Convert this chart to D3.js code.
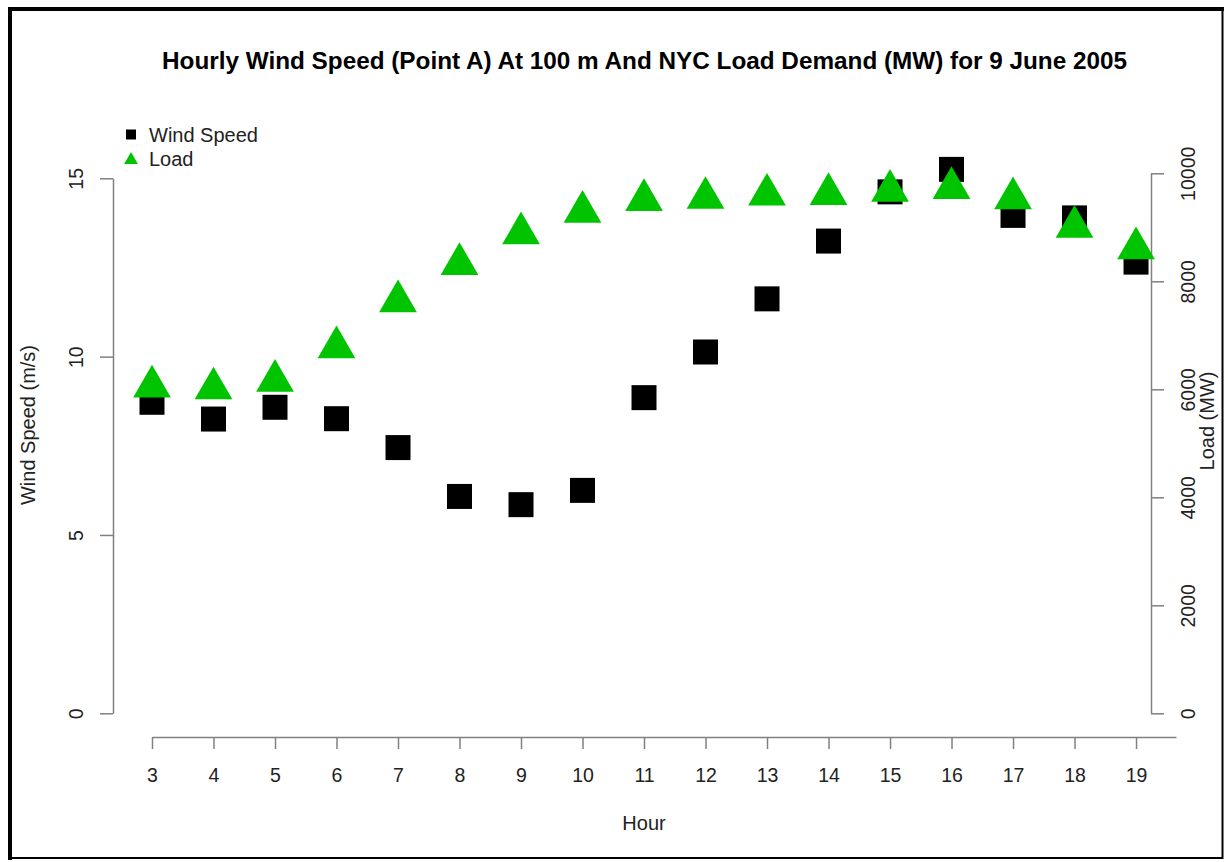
<!DOCTYPE html>
<html>
<head>
<meta charset="utf-8">
<script src="https://cdn.jsdelivr.net/npm/d3@7"></script>
<style>
  html, body { margin: 0; padding: 0; background: #fff; }
  text { font-family: "Liberation Sans", Arial, Helvetica, sans-serif; }
</style>
</head>
<body>
<svg id="chart" width="1228" height="862"></svg>
<script>
// ---- data ----
const hours = [3, 4, 5, 6, 7, 8, 9, 10, 11, 12, 13, 14, 15, 16, 17, 18, 19];
const windSpeed = [8.72, 8.25, 8.58, 8.26, 7.45, 6.08, 5.85, 6.25, 8.85, 10.13, 11.62, 13.24, 14.62, 15.25, 13.96, 13.89, 12.65];
const loadMW = [6050, 6016, 6156, 6776, 7630, 8319, 8887, 9285, 9504, 9544, 9604, 9615, 9676, 9728, 9535, 9009, 8609];
const windTicks = [0, 5, 10, 15];
const loadTicks = [0, 2000, 4000, 6000, 8000, 10000];
const titleText = "Hourly Wind Speed (Point A) At 100 m And NYC Load Demand (MW) for 9 June 2005";
const legendLabels = ["Wind Speed", "Load"];

// ---- setup ----
const svg = d3.select("#chart");
const green = "#00c400";
const axisCol = "#808080";
const textCol = "#222";
const tickFont = 19.5;
const labFont = 20;

const x = d3.scaleLinear().domain([3, 19.65]).range([152, 1176]);
const yW = d3.scaleLinear().domain([0, 15]).range([713.3, 178.3]);
const yL = d3.scaleLinear().domain([0, 10000]).range([713.3, 173.3]);

// frame
svg.append("rect").attr("x", 10.5).attr("y", 9).attr("width", 1212).attr("height", 849)
  .attr("fill", "none").attr("stroke", "#000").attr("stroke-width", 2);
svg.append("line").attr("x1", 10).attr("x2", 10).attr("y1", 7).attr("y2", 860).attr("stroke", "#000").attr("stroke-width", 4);
svg.append("line").attr("x1", 8).attr("x2", 1224).attr("y1", 9).attr("y2", 9).attr("stroke", "#000").attr("stroke-width", 4);

// title
svg.append("text").attr("x", 644.5).attr("y", 69).attr("text-anchor", "middle")
  .attr("font-size", 23).attr("font-weight", "bold").attr("fill", "#000")
  .attr("textLength", 965).attr("lengthAdjust", "spacingAndGlyphs").text(titleText);

// x axis
const gx = svg.append("g").attr("transform", "translate(0,737)")
  .call(d3.axisBottom(x).tickValues(hours).tickFormat(d3.format("d")).tickSizeInner(12).tickSizeOuter(0).tickPadding(19));
gx.select(".domain").attr("stroke", axisCol).attr("stroke-width", 1.5);
gx.selectAll(".tick line").attr("stroke", axisCol).attr("stroke-width", 1.5);
gx.selectAll(".tick text").attr("fill", textCol).attr("font-size", tickFont).attr("font-family", "Liberation Sans, Arial, sans-serif");

// left axis
const gyl = svg.append("g").attr("transform", "translate(113,0)")
  .call(d3.axisLeft(yW).tickValues(windTicks).tickSizeInner(13).tickSizeOuter(0).tickFormat(d3.format("d")));
gyl.select(".domain").attr("stroke", axisCol).attr("stroke-width", 1.5);
gyl.selectAll(".tick line").attr("stroke", axisCol).attr("stroke-width", 1.5);
gyl.selectAll(".tick text").attr("fill", textCol).attr("font-size", tickFont)
  .attr("font-family", "Liberation Sans, Arial, sans-serif")
  .attr("x", null)
  .attr("text-anchor", "middle")
  .attr("transform", "translate(-37,0) rotate(-90)")
  .attr("dy", "0.35em");

// right axis
const gyr = svg.append("g").attr("transform", "translate(1151,0)")
  .call(d3.axisRight(yL).tickValues(loadTicks).tickSizeInner(13).tickSizeOuter(0).tickFormat(d3.format("d")));
gyr.select(".domain").attr("stroke", axisCol).attr("stroke-width", 1.5);
gyr.selectAll(".tick line").attr("stroke", axisCol).attr("stroke-width", 1.5);
gyr.selectAll(".tick text").attr("fill", textCol).attr("font-size", tickFont)
  .attr("font-family", "Liberation Sans, Arial, sans-serif")
  .attr("x", null).attr("dy", "0.35em")
  .attr("text-anchor", "middle")
  .attr("transform", "translate(37,0) rotate(-90)");

// axis titles
svg.append("text").attr("transform", "translate(35,425) rotate(-90)").attr("text-anchor", "middle")
  .attr("font-size", labFont).attr("fill", textCol).text("Wind Speed (m/s)");
svg.append("text").attr("transform", "translate(1214,421) rotate(-90)").attr("text-anchor", "middle")
  .attr("font-size", labFont).attr("fill", textCol).text("Load (MW)");
svg.append("text").attr("x", 644).attr("y", 830).attr("text-anchor", "middle")
  .attr("font-size", labFont).attr("fill", textCol).text("Hour");

// points: squares (wind)
const sq = d3.symbol().type(d3.symbolSquare).size(625);
svg.append("g").selectAll("path").data(hours).join("path")
  .attr("d", sq)
  .attr("transform", (d, i) => `translate(${x(d)},${yW(windSpeed[i])})`)
  .attr("fill", "#000");

// points: triangles (load)
const tri = d3.symbol().type(d3.symbolTriangle).size(617);
svg.append("g").selectAll("path").data(hours).join("path")
  .attr("d", tri)
  .attr("transform", (d, i) => `translate(${x(d)},${yL(loadMW[i])})`)
  .attr("fill", green);

// legend
const leg = svg.append("g");
leg.append("path").attr("d", d3.symbol().type(d3.symbolSquare).size(100)).attr("transform", "translate(131,134.5)").attr("fill", "#000");
leg.append("path").attr("d", d3.symbol().type(d3.symbolTriangle).size(83)).attr("transform", "translate(131,160)").attr("fill", green);
leg.selectAll("text.lg").data(legendLabels).join("text").attr("class", "lg")
  .attr("x", 149).attr("y", (d, i) => 135 + i * 24).attr("dy", "0.35em")
  .attr("font-size", labFont).attr("fill", textCol).text(d => d);
</script>
</body>
</html>
